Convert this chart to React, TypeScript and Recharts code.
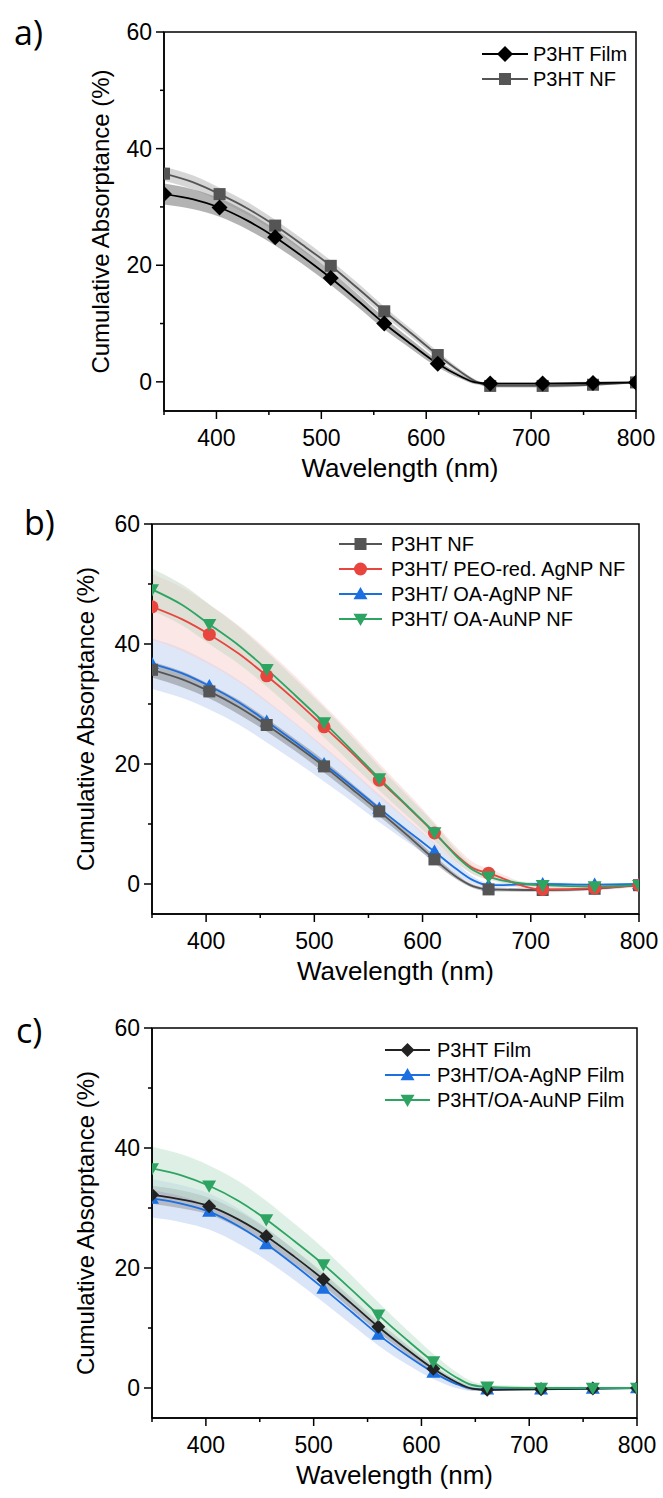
import React from "react";
import { ComposedChart, Line, Area, XAxis, YAxis, ReferenceArea } from "recharts";

const FONT = '"Liberation Sans", Arial, Helvetica, sans-serif';

// wavelength grid (nm); markers only sit on MARKER_WL
const WAVELENGTHS = [350, 378, 403, 430, 456, 482, 509, 535, 560, 586, 611, 632, 647, 661, 711, 759, 800];
const MARKER_WL = [350, 403, 456, 509, 560, 611, 661, 711, 759, 800];
const X_TICKS = [350, 400, 450, 500, 550, 600, 650, 700, 750, 800];
const Y_TICKS = [0, 10, 20, 30, 40, 50, 60];

// a) film vs nanofibre
const A_FILM = [32.2, 31.3, 29.9, 27.6, 24.8, 21.5, 17.8, 13.9, 10.0, 6.4, 3.1, 1.0, -0.1, -0.3, -0.3, -0.2, -0.1];
const A_FILM_ERR = [1.8, 1.7, 1.6, 1.5, 1.4, 1.3, 1.2, 1.1, 1.0, 0.8, 0.6, 0.4, 0.3, 0.2, 0.2, 0.2, 0.1];
const A_NF = [35.7, 34.2, 32.2, 29.7, 26.8, 23.5, 19.9, 16.0, 12.1, 8.3, 4.6, 1.8, 0.1, -0.7, -0.7, -0.5, -0.1];
const A_NF_ERR = [1.2, 1.2, 1.1, 1.1, 1.0, 1.0, 0.9, 0.9, 0.8, 0.7, 0.6, 0.4, 0.3, 0.3, 0.3, 0.2, 0.2];

// b) nanofibres
const B_NF = [35.7, 34.1, 32.1, 29.5, 26.5, 23.2, 19.6, 15.8, 12.1, 8.1, 4.1, 1.1, -0.4, -0.9, -1.0, -0.8, -0.2];
const B_NF_ERR = [1.3, 1.3, 1.2, 1.2, 1.1, 1.0, 1.0, 0.9, 0.8, 0.7, 0.6, 0.4, 0.3, 0.3, 0.3, 0.2, 0.2];
const B_PEO = [46.2, 44.1, 41.6, 38.4, 34.7, 30.7, 26.2, 21.8, 17.3, 12.9, 8.5, 4.7, 2.6, 1.8, -0.9, -0.7, -0.2];
const B_PEO_ERR = [5.5, 5.3, 5.0, 4.7, 4.4, 4.0, 3.6, 3.2, 2.8, 2.3, 1.8, 1.3, 1.0, 0.8, 0.5, 0.4, 0.3];
const B_AG = [36.7, 35.1, 33.0, 30.3, 27.1, 23.7, 20.0, 16.3, 12.6, 8.9, 5.4, 2.4, 0.6, -0.2, 0.0, -0.1, 0.0];
const B_AG_ERR = [4.2, 4.1, 3.9, 3.7, 3.5, 3.2, 2.9, 2.6, 2.3, 1.9, 1.5, 1.0, 0.6, 0.4, 0.3, 0.2, 0.2];
const B_AU = [49.1, 46.5, 43.3, 39.8, 35.8, 31.5, 26.9, 22.2, 17.6, 13.0, 8.6, 4.5, 2.3, 1.2, -0.2, -0.4, -0.2];
const B_AU_ERR = [3.5, 3.4, 3.3, 3.1, 2.9, 2.7, 2.5, 2.3, 2.0, 1.7, 1.4, 1.0, 0.7, 0.5, 0.3, 0.3, 0.2];

// c) films
const C_FILM = [32.2, 31.4, 30.3, 28.1, 25.3, 21.9, 18.1, 14.1, 10.2, 6.5, 3.2, 1.0, -0.1, -0.3, -0.2, -0.1, 0.0];
const C_FILM_ERR = [1.5, 1.5, 1.4, 1.4, 1.3, 1.2, 1.1, 1.0, 0.9, 0.8, 0.6, 0.4, 0.3, 0.2, 0.2, 0.1, 0.1];
const C_AG = [31.6, 30.7, 29.4, 27.0, 24.0, 20.5, 16.6, 12.7, 8.9, 5.5, 2.6, 0.7, -0.1, -0.2, -0.2, -0.1, 0.0];
const C_AG_ERR = [3.2, 3.1, 3.0, 2.9, 2.7, 2.5, 2.3, 2.1, 1.8, 1.5, 1.1, 0.7, 0.4, 0.3, 0.2, 0.2, 0.1];
const C_AU = [36.6, 35.4, 33.7, 31.2, 28.1, 24.5, 20.6, 16.4, 12.2, 8.1, 4.4, 1.8, 0.5, 0.2, 0.0, 0.0, 0.0];
const C_AU_ERR = [3.6, 3.5, 3.4, 3.3, 3.1, 2.9, 2.7, 2.4, 2.1, 1.7, 1.3, 0.9, 0.6, 0.4, 0.3, 0.2, 0.2];

type Shape = "diamond" | "square" | "circle" | "up" | "down";
interface Series {
  key: string; name: string; values: number[]; err: number[];
  color: string; band: string; bandOpacity: number; shape: Shape; size: number;
}

const SERIES_A: Series[] = [
  { key: "nf", name: "P3HT NF", values: A_NF, err: A_NF_ERR, color: "#555555", band: "#c4c4c4", bandOpacity: 0.7, shape: "square", size: 12 },
  { key: "film", name: "P3HT Film", values: A_FILM, err: A_FILM_ERR, color: "#000000", band: "#8a8a8a", bandOpacity: 0.65, shape: "diamond", size: 16 },
];
const LEGEND_A = ["film", "nf"];

const SERIES_B: Series[] = [
  { key: "ag", name: "P3HT/ OA-AgNP NF", values: B_AG, err: B_AG_ERR, color: "#1b6fe0", band: "#bcd0f2", bandOpacity: 0.5, shape: "up", size: 14 },
  { key: "nf", name: "P3HT NF", values: B_NF, err: B_NF_ERR, color: "#555555", band: "#777777", bandOpacity: 0.45, shape: "square", size: 12 },
  { key: "peo", name: "P3HT/ PEO-red. AgNP NF", values: B_PEO, err: B_PEO_ERR, color: "#e8453f", band: "#f9cfcf", bandOpacity: 0.5, shape: "circle", size: 13 },
  { key: "au", name: "P3HT/ OA-AuNP NF", values: B_AU, err: B_AU_ERR, color: "#2ea462", band: "#c9d8c7", bandOpacity: 0.55, shape: "down", size: 14 },
];
const LEGEND_B = ["nf", "peo", "ag", "au"];

const SERIES_C: Series[] = [
  { key: "ag", name: "P3HT/OA-AgNP Film", values: C_AG, err: C_AG_ERR, color: "#1b6fe0", band: "#bcd0f2", bandOpacity: 0.55, shape: "up", size: 14 },
  { key: "film", name: "P3HT Film", values: C_FILM, err: C_FILM_ERR, color: "#222222", band: "#7a7a7a", bandOpacity: 0.4, shape: "diamond", size: 14 },
  { key: "au", name: "P3HT/OA-AuNP Film", values: C_AU, err: C_AU_ERR, color: "#2ea462", band: "#c3e3cf", bandOpacity: 0.55, shape: "down", size: 14 },
];
const LEGEND_C = ["film", "ag", "au"];

function Marker({ shape, cx, cy, size, color }: { shape: Shape; cx: number; cy: number; size: number; color: string }) {
  const s = size / 2;
  switch (shape) {
    case "diamond":
      return <polygon points={`${cx},${cy - s} ${cx + s},${cy} ${cx},${cy + s} ${cx - s},${cy}`} fill={color} />;
    case "square":
      return <rect x={cx - s} y={cy - s} width={size} height={size} fill={color} />;
    case "circle":
      return <circle cx={cx} cy={cy} r={s} fill={color} />;
    case "up":
      return <polygon points={`${cx},${cy - s} ${cx + s},${cy + s * 0.75} ${cx - s},${cy + s * 0.75}`} fill={color} />;
    default:
      return <polygon points={`${cx},${cy + s} ${cx + s},${cy - s * 0.75} ${cx - s},${cy - s * 0.75}`} fill={color} />;
  }
}

// eslint-disable-next-line @typescript-eslint/no-explicit-any
const XTick = (props: any) => {
  const { x, y, payload } = props;
  const v = payload.value;
  const major = v % 100 === 0;
  return (
    <g>
      <line x1={x} x2={x} y1={y} y2={y + (major ? 8 : 4)} stroke="#000" strokeWidth={1.5} />
      {major && (
        <text x={x} y={y + 27} textAnchor="middle" dominantBaseline="central" fontSize={23} fontFamily={FONT} fill="#000">{v}</text>
      )}
    </g>
  );
};

// eslint-disable-next-line @typescript-eslint/no-explicit-any
const YTick = (props: any) => {
  const { x, y, payload } = props;
  const v = payload.value;
  const major = v % 20 === 0;
  return (
    <g>
      <line x1={x} x2={x - (major ? 8 : 4)} y1={y} y2={y} stroke="#000" strokeWidth={1.5} />
      {major && (
        <text x={x - 12} y={y} textAnchor="end" dominantBaseline="central" fontSize={23} fontFamily={FONT} fill="#000">{v}</text>
      )}
    </g>
  );
};

interface PanelProps {
  top: number; height: number; mt: number; mr: number; yw: number; xh: number;
  titleX: number; titleOffset: number;
  letter: string; letterX: number; letterY: number;
  series: Series[]; legendOrder: string[];
  legend: { x1: number; x2: number; tx: number; y0: number; dy: number };
}

function Panel(p: PanelProps) {
  const rows = WAVELENGTHS.map((wl, i) => {
    const row: Record<string, number | number[]> = { wl };
    p.series.forEach(s => {
      row[s.key] = s.values[i];
      row[s.key + "Band"] = [s.values[i] - s.err[i], s.values[i] + s.err[i]];
    });
    return row;
  });

  return (
    <div style={{ position: "absolute", left: 0, top: p.top, width: 663, height: p.height }}>
      <ComposedChart width={663} height={p.height} data={rows} margin={{ top: p.mt, right: p.mr, bottom: 0, left: 0 }}>
        <XAxis
          type="number" dataKey="wl" domain={[350, 800]} ticks={X_TICKS} interval={0} allowDataOverflow
          height={p.xh} tickSize={0} tickMargin={0} tickLine={false} tick={XTick}
          axisLine={{ stroke: "#000", strokeWidth: 1.5 }}
          label={{ value: "Wavelength (nm)", position: "insideBottom", offset: p.titleOffset, fontSize: 26, fill: "#000", fontFamily: FONT }}
        />
        <YAxis
          type="number" domain={[-5, 60]} ticks={Y_TICKS} interval={0} allowDataOverflow
          width={p.yw} tickSize={0} tickMargin={0} tickLine={false} tick={YTick}
          axisLine={{ stroke: "#000", strokeWidth: 1.5 }}
          label={{ value: "Cumulative Absorptance (%)", angle: -90, position: "insideLeft", offset: p.titleX, fontSize: 24, fill: "#000", fontFamily: FONT, style: { textAnchor: "middle" } }}
        />
        {p.series.map(s => (
          <Area
            key={s.key + "Band"} dataKey={s.key + "Band"} type="monotone" stroke="none"
            fill={s.band} fillOpacity={s.bandOpacity} dot={false} activeDot={false} isAnimationActive={false}
          />
        ))}
        {p.series.map(s => (
          <Line
            key={s.key} dataKey={s.key} type="monotone" stroke={s.color} strokeWidth={1.8}
            activeDot={false} isAnimationActive={false}
            // eslint-disable-next-line @typescript-eslint/no-explicit-any
            dot={(d: any) => MARKER_WL.includes(d.payload.wl)
              ? <Marker key={`${s.key}-${d.index}`} shape={s.shape} cx={d.cx} cy={d.cy} size={s.size} color={s.color} />
              : <g key={`${s.key}-${d.index}`} />}
          />
        ))}
        <ReferenceArea x1={350} x2={800} y1={-5} y2={60} fill="none" stroke="#000" strokeWidth={1.5} ifOverflow="visible" />
      </ComposedChart>

      <svg width={663} height={p.height} style={{ position: "absolute", left: 0, top: 0, pointerEvents: "none" }}>
        <text x={p.letterX} y={p.letterY} fontSize={34} fontFamily='"Open Sans", "Noto Sans", sans-serif' fill="#000">{p.letter}</text>
        {p.legendOrder.map((k, i) => {
          const s = p.series.find(x => x.key === k)!;
          const y = p.legend.y0 + i * p.legend.dy;
          return (
            <g key={k}>
              <line x1={p.legend.x1} x2={p.legend.x2} y1={y} y2={y} stroke={s.color} strokeWidth={1.8} />
              <Marker shape={s.shape} cx={(p.legend.x1 + p.legend.x2) / 2} cy={y} size={s.size} color={s.color} />
              <text x={p.legend.tx} y={y} dominantBaseline="central" fontSize={20} fontFamily={FONT} fill="#000">{s.name}</text>
            </g>
          );
        })}
      </svg>
    </div>
  );
}

export default function App() {
  return (
    <div style={{ position: "absolute", left: 0, top: 0, width: 663, height: 1498, background: "#fff" }}>
      <Panel
        top={0} height={495} mt={32} mr={27} yw={164} xh={84} titleX={100} titleOffset={18}
        letter="a)" letterX={14} letterY={45}
        series={SERIES_A} legendOrder={LEGEND_A}
        legend={{ x1: 482, x2: 528, tx: 533, y0: 54, dy: 25 }}
      />
      <Panel
        top={495} height={503} mt={29} mr={24} yw={152} xh={84} titleX={85} titleOffset={18}
        letter="b)" letterX={24} letterY={40}
        series={SERIES_B} legendOrder={LEGEND_B}
        legend={{ x1: 339, x2: 382, tx: 391, y0: 49, dy: 25 }}
      />
      <Panel
        top={998} height={500} mt={30} mr={26} yw={152} xh={80} titleX={85} titleOffset={14}
        letter="c)" letterX={16} letterY={45}
        series={SERIES_C} legendOrder={LEGEND_C}
        legend={{ x1: 385, x2: 430, tx: 437, y0: 52, dy: 25 }}
      />
    </div>
  );
}
